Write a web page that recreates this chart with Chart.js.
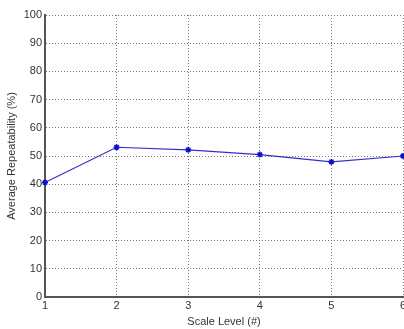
<!DOCTYPE html>
<html><head><meta charset="utf-8">
<script src="https://cdn.jsdelivr.net/npm/chart.js@4"></script>
<style>html,body{margin:0;padding:0;background:#fff}#w{width:404px;height:329px;position:relative}</style>
</head><body><div id="w"><canvas id="c" width="404" height="329"></canvas></div>
<script>
const scaleLevels = [1, 2, 3, 4, 5, 6];
const repeatability = [40.6, 53.1, 52.2, 50.5, 47.9, 50.0];
const yTicks = [0, 10, 20, 30, 40, 50, 60, 70, 80, 90, 100];
const xTitle = 'Scale Level (#)';
const yTitle = 'Average Repeatability (%)';

const font = {family: 'Liberation Sans, Arial, sans-serif', size: 11};
new Chart(document.getElementById('c'), {
  type: 'line',
  data: {
    datasets: [{
      data: scaleLevels.map((x, i) => ({x: x, y: repeatability[i]})),
      borderColor: '#3030c8',
      borderWidth: 1.2,
      pointStyle: 'star',
      pointRadius: 3,
      pointBorderColor: '#1010d0',
      pointBackgroundColor: '#1010d0',
      pointBorderWidth: 1.5,
      tension: 0,
      clip: false
    }]
  },
  options: {
    responsive: false,
    animation: false,
    layout: {autoPadding: false, padding: {top: 15, right: 1, left: 0, bottom: 0}},
    plugins: {legend: {display: false}, tooltip: {enabled: false}},
    scales: {
      x: {
        type: 'linear', min: 1, max: 6,
        afterBuildTicks: s => { s.ticks = scaleLevels.map(v => ({value: v})); },
        afterFit: s => { s.height = 32; s.paddingRight = 0; s.paddingLeft = 0; },
        grid: {color: '#777', drawTicks: false, lineWidth: 1},
        border: {display: true, color: '#555', width: 2, dash: [1, 2]},
        ticks: {font: font, color: '#333', padding: 2},
        title: {display: true, text: xTitle, font: font, color: '#333', padding: {top: 2, bottom: 0}}
      },
      y: {
        min: 0, max: 100,
        afterBuildTicks: s => { s.ticks = yTicks.map(v => ({value: v})); },
        afterFit: s => { s.width = 45; },
        grid: {color: '#777', drawTicks: false, lineWidth: 1},
        border: {display: true, color: '#555', width: 2, dash: [1, 2]},
        ticks: {font: font, color: '#333', padding: 3},
        title: {display: true, text: yTitle, font: font, color: '#333', padding: {top: 5, bottom: 2}}
      }
    }
  }
});
</script></body></html>
